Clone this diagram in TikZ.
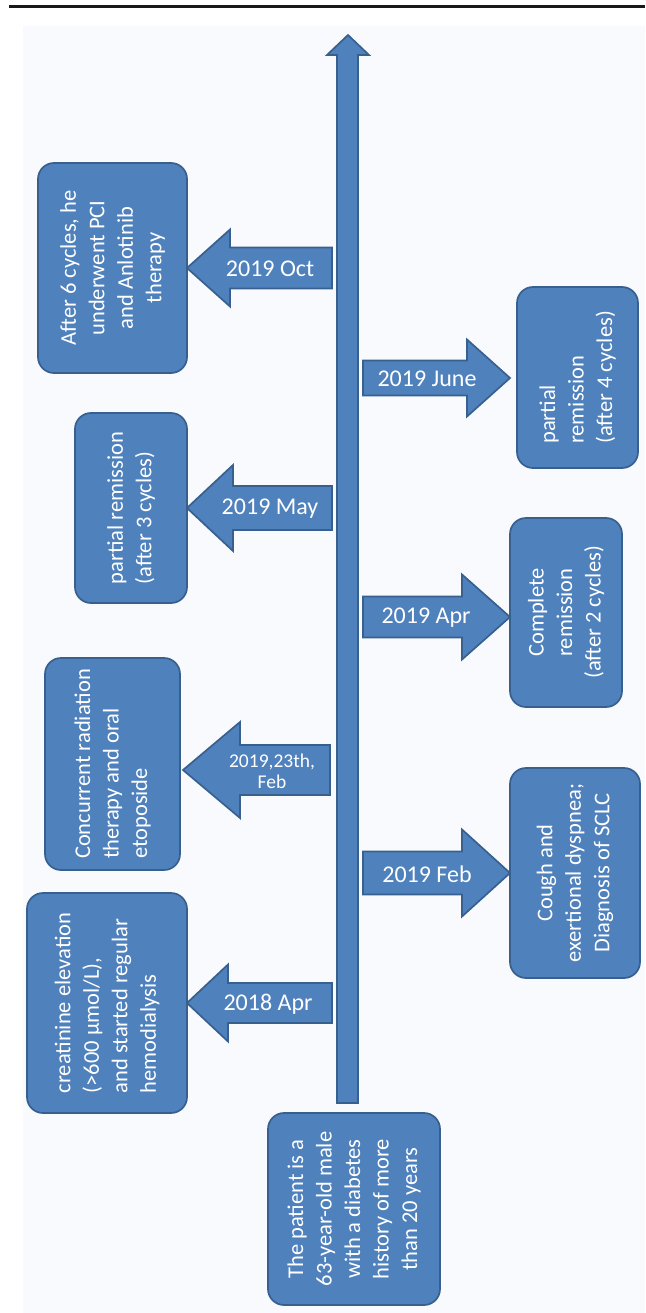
\documentclass[tikz,border=0pt]{standalone}
\usepackage{fontspec}
\setmainfont{Carlito}
\definecolor{boxfill}{HTML}{4F81BD}
\definecolor{boxline}{HTML}{37608F}
\definecolor{panel}{HTML}{F9FAFD}
\tikzset{
  evbox/.style={draw=boxline, line width=1.7pt, fill=boxfill, rounded corners=16pt,
    rotate=90, text=white, inner sep=0pt, font=\fontsize{22.5}{28.5}\selectfont},
  blockarrow/.style={draw=boxline, line width=1.7pt, fill=boxfill, line join=miter},
  datelbl/.style={text=white, font=\fontsize{24}{26}\selectfont, inner sep=0pt, align=center},
}
\newcommand\leftarrowblk[6]{% tip, base, end, cy, headhalf, shafthalf
  \fill[blockarrow] (#1,#4) -- (#2,#4-#5) -- (#2,#4-#6) -- (#3,#4-#6) -- (#3,#4+#6) -- (#2,#4+#6) -- (#2,#4+#5) -- cycle;}
\newcommand\rightarrowblk[6]{% start, base, tip, cy, headhalf, shafthalf
  \fill[blockarrow] (#3,#4) -- (#2,#4-#5) -- (#2,#4-#6) -- (#1,#4-#6) -- (#1,#4+#6) -- (#2,#4+#6) -- (#2,#4+#5) -- cycle;}
\begin{document}
\begin{tikzpicture}[x=1pt,y=-1pt]
\useasboundingbox (0,0) rectangle (645,1313);
\fill[panel] (23,26) rectangle (645,1313);
\draw[line width=2.2pt, black!90] (9,6.5) -- (645,6.5);

% time axis
\fill[blockarrow] (337,1103) -- (337,55) -- (327,55) -- (348,35) -- (369,55) -- (358,55) -- (358,1103) -- cycle;
\coordinate (axistop) at (348,35);

% boxes
\node[evbox, minimum width=210pt, minimum height=149pt, align=center] (oct) at (112.5,268)
  {After 6 cycles, he\\underwent PCI\\and Anlotinib\\therapy};
\node[evbox, minimum width=190pt, minimum height=112pt, align=left] (may) at (131,508)
  {partial remission\\(after 3 cycles)};
\node[evbox, minimum width=212pt, minimum height=135pt, align=left] (feb23) at (112.5,764)
  {Concurrent radiation\\therapy and oral\\etoposide};
\node[evbox, minimum width=220pt, minimum height=160pt, align=left] (apr18) at (107,1003)
  {creatinine elevation\\(>600 μmol/L),\\and started regular\\hemodialysis};
\node[evbox, minimum width=181pt, minimum height=121pt, align=left] (jun) at (577.5,377.5)
  {partial\\remission\\(after 4 cycles)};
\node[evbox, minimum width=189pt, minimum height=112pt, align=center] (apr19) at (566,612.5)
  {Complete\\remission\\(after 2 cycles)};
\node[evbox, minimum width=210pt, minimum height=130pt, align=center] (feb19) at (575,873)
  {Cough and\\exertional dyspnea;\\Diagnosis of SCLC};
\node[evbox, minimum width=192pt, minimum height=172pt, align=center] (patient) at (354,1209)
  {The patient is a\\63-year-old male\\with a diabetes\\history of more\\than 20 years};

% left arrows
\leftarrowblk{187}{230}{332}{268}{38.5}{20.5}
\node[datelbl] (loct) at (270,269) {2019 Oct};
\leftarrowblk{187}{233}{332}{508}{43}{22}
\node[datelbl] (lmay) at (270,509) {2019 May};
\leftarrowblk{183}{240}{330}{770}{48}{25}
\node[datelbl, font=\fontsize{19.5}{21}\selectfont] (lfeb23) at (272,771) {2019,23th,\\Feb};
\leftarrowblk{187}{228}{332}{1003}{38.5}{20}
\node[datelbl] (lapr18) at (268,1004) {2018 Apr};

% right arrows
\rightarrowblk{363}{467}{510}{378}{38.5}{17.5}
\node[datelbl] (ljun) at (427,379) {2019 June};
\rightarrowblk{363}{462}{510}{617}{42.5}{20.5}
\node[datelbl] (lapr19) at (426,618) {2019 Apr};
\rightarrowblk{363}{462}{510}{873}{43.5}{21.5}
\node[datelbl] (lfeb19) at (427,874) {2019 Feb};
\end{tikzpicture}
\end{document}
